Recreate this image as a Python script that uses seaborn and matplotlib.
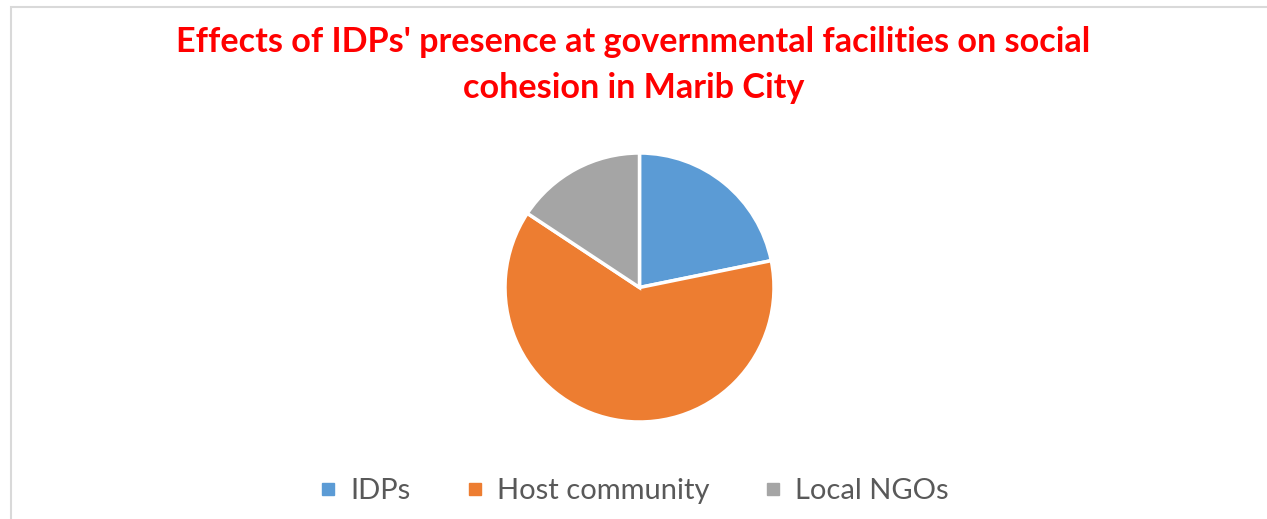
import matplotlib
matplotlib.use("Agg")
import matplotlib.pyplot as plt
from matplotlib.patches import Rectangle
from matplotlib.lines import Line2D
import seaborn as sns

categories = ["IDPs", "Host community", "Local NGOs"]
shares = [21.8, 62.5, 15.7]
title = "Effects of IDPs' presence at governmental facilities on social\ncohesion in Marib City"

sns.set_theme(style="white")
plt.rcParams["font.family"] = ["Lato", "DejaVu Sans"]

colors = sns.color_palette(["#5B9BD5", "#ED7D31", "#A5A5A5"])

W, H = 1267, 519
fig = plt.figure(figsize=(W / 100, H / 100), dpi=100)

# chart-area frame
fig.add_artist(Rectangle((11 / W, -0.05), 1.1, (H - 7) / H + 0.05,
                         transform=fig.transFigure, fill=False,
                         edgecolor="#D9D9D9", linewidth=1.5))

cx, cy, r = 639.5, 287.5, 134.5
ax = fig.add_axes([(cx - r) / W, (H - cy - r) / H, 2 * r / W, 2 * r / H])
ax.pie(shares, colors=colors, startangle=90, counterclock=False, radius=1,
       wedgeprops=dict(edgecolor="white", linewidth=2.5))
ax.set_xlim(-1.0, 1.0)
ax.set_ylim(-1.0, 1.0)
ax.set_aspect("equal")
ax.axis("off")

fig.text(0.5, (H - 65) / H, title, ha="center", va="center", color="#FF0000",
         fontsize=24.6, fontweight="bold", linespacing=1.55)

handles = [Line2D([0], [0], marker="s", linestyle="none", markersize=9,
                  markerfacecolor=c, markeredgecolor=c) for c in colors]
fig.legend(handles, categories, loc="center", bbox_to_anchor=(0.5, (H - 491) / H),
           ncol=3, frameon=False, fontsize=21, labelcolor="#595959",
           handletextpad=0.4, columnspacing=1.85, handlelength=0.7)

fig.savefig("out.png", dpi=100, facecolor="white")
